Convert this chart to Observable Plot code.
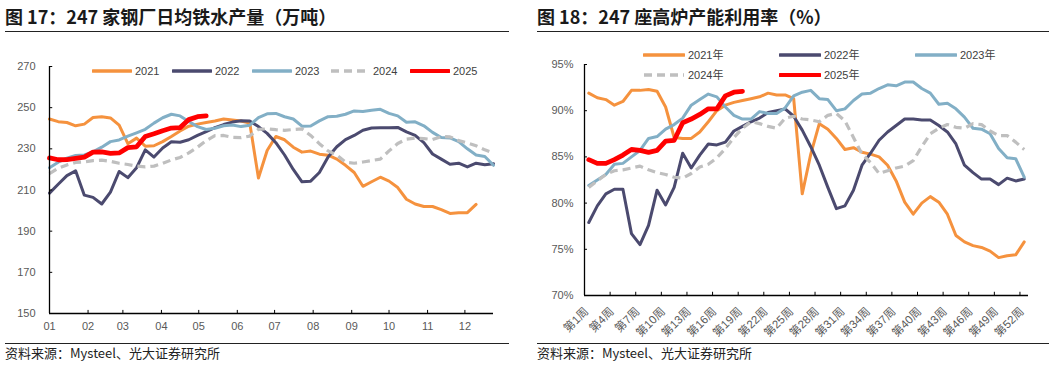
<!DOCTYPE html>
<html><head><meta charset="utf-8">
<script src="https://cdn.jsdelivr.net/npm/d3@7"></script>
<script src="https://cdn.jsdelivr.net/npm/@observablehq/plot@0.6"></script>
<style>
body{margin:0;background:#fff;}
#wrap{position:relative;width:1054px;height:365px;overflow:hidden;font-family:"Liberation Sans",Arial,"Noto Sans CJK SC",sans-serif;}
.title{position:absolute;top:5px;line-height:22px;font-family:"Noto Sans CJK SC",sans-serif;font-weight:bold;font-size:18px;color:#1a1a1a;white-space:nowrap;}
.rule{position:absolute;height:0;border-top:1.5px solid #222;}
.src{position:absolute;top:344px;line-height:17px;font-family:"Noto Sans CJK SC",sans-serif;font-size:13px;color:#222;white-space:nowrap;}
.chart{position:absolute;top:35px;}
.leg{position:absolute;height:14px;line-height:14px;font-size:11px;color:#404040;white-space:nowrap;font-family:"Liberation Sans",Arial,"Noto Sans CJK SC",sans-serif;}
.leg svg{position:absolute;left:0;top:0;}
.leg span{position:absolute;top:0;}
</style></head>
<body>
<div id="wrap">
  <div class="title" style="left:5px">图 17：247 家钢厂日均铁水产量（万吨）</div>
  <div class="rule" style="left:5px;top:31px;width:504px"></div>
  <div class="title" style="left:537px">图 18：247 座高炉产能利用率（%）</div>
  <div class="rule" style="left:537px;top:31px;width:512px"></div>
  <div id="left" class="chart" style="left:0px"></div>
  <div id="right" class="chart" style="left:530px"></div>
  <div class="rule" style="left:5px;top:343px;width:504px"></div>
  <div class="rule" style="left:537px;top:343px;width:512px"></div>
  <div class="src" style="left:5px">资料来源：Mysteel、光大证券研究所</div>
  <div class="src" style="left:537px">资料来源：Mysteel、光大证券研究所</div>
</div>
<script>
// ---------- data ----------
const monthLabels = ["01","02","03","04","05","06","07","08","09","10","11","12"];
const monthStartDays = [0,31,59,90,120,151,181,212,243,273,304,334];
const leftYTicks = [150,170,190,210,230,250,270];
const rightYTicks = [70,75,80,85,90,95];
const weekTickPos = [0,3,6,9,12,15,18,21,24,27,30,33,36,39,42,45,48,51];
const weekLabels = ["第1周","第4周","第7周","第10周","第13周","第16周","第19周","第22周","第25周","第28周","第31周","第34周","第37周","第40周","第43周","第46周","第49周","第52周"];

const leftNames = ["2021","2022","2023","2024","2025"];
const rightNames = ["2021年","2022年","2023年","2024年","2025年"];
const colors = ["#F5923E","#4B4A6F","#82AFC6","#BFBFBF","#FF0000"];

// 日均铁水产量（万吨），weekly
const L2021 = [244.5,243.2,242.8,241.2,242,245.2,245.6,245,241.5,232.5,235.2,231.3,231.5,233.5,236,238.7,241,242,242.8,243.5,244.5,244,243.5,242.5,215.8,229.2,236,234.4,230.8,228.4,228.9,227.4,226.9,225,222,218.5,211.8,214,216.2,214.3,211.2,205.5,203.2,202,202,200.5,198.6,199,199,203];
const L2022 = [208.5,212.8,217,219.3,207.5,206.4,203.2,209,219,216,220.8,229.5,226,230.4,233.4,233.2,234.4,236.5,238.4,240.3,241.8,243,243.6,243.5,240.8,237.5,233,227,220,214,214.3,218.5,226,231,234.5,236.5,239,240.1,240.2,240.2,240.4,238.2,236.5,233,227.5,225,222.5,223,221.2,223,222.3,222.7];
const L2023 = [220.8,223.5,225.5,226.8,227,228.5,230.8,233.5,234.3,236.2,237.8,239.5,242.5,245.1,246.8,246,243.3,240.8,239.4,240,241.2,241.6,240.8,241.5,245.2,247,247.2,245.6,244.5,241,241.1,243.6,245.6,245.8,246.8,248.4,248.1,248.7,249.2,247.2,246,242.9,243.1,241.2,238,235.5,235.3,233.5,230,227,226.3,222];
const L2024 = [218,220.6,222.2,223.4,223.7,224.3,224.5,223.9,223,222.4,221.6,221.2,221.6,222.9,224.6,225.8,228,230.8,234,236.4,236.5,235.6,235.4,236.2,239.5,239.7,239.3,239,239.4,239.7,236.5,232.5,229,227,223.5,223,223.6,224.3,225,229,232.6,234.7,235.2,235,234.5,236,235.8,234,232.9,231.5,229.5,228];
const L2025 = [225.6,224.7,224.8,225.4,226,228.4,228.5,227.8,228,230.6,231,236,237.3,238.8,240.1,240.3,244.2,245.6,246];

// 高炉产能利用率（%），weeks 1..52
const R2021 = [91.9,91.4,91.2,90.6,91,92.2,92.2,92.3,92.1,90.4,87.1,87,87,87.7,88.8,90,90.6,90.9,91.1,91.3,91.5,91.9,91.7,91.7,91.3,81,85.3,88.6,88,87,85.8,86,85.5,85.3,85,84.1,82.4,80.1,78.8,80,80.7,80.1,78.8,76.5,75.8,75.4,75.2,74.8,74.1,74.3,74.4,75.8];
const R2022 = [77.9,79.7,81,81.5,81.5,76.7,75.5,77.6,81.4,79.8,81.7,85.4,83.8,85.2,86.4,86.3,86.6,87.8,88.3,88.8,89.2,89.8,90,90.2,89.4,87.9,86.1,84.1,81.7,79.4,79.7,81.4,84.1,85.4,86.8,87.7,88.4,89.1,89.1,89,89,88.4,87.7,86.4,84.1,83.3,82.6,82.6,82,82.7,82.4,82.6];
const R2023 = [81.9,82.5,83.1,84.2,84.3,85,85.7,87,87.2,88,88.5,89.2,90.6,91.2,91.8,91.5,90.4,89.5,89.1,89.1,89.9,89.7,89.7,90.3,91.6,92,92.2,91.3,91.2,90,90.2,91.1,91.8,91.9,92.4,92.8,92.7,93.1,93.1,92.4,91.9,90.7,90.8,90.2,89.3,88.1,88,87.5,85.9,84.9,84.8,82.8];
const R2024 = [81.7,82.4,83.1,83.5,83.6,83.8,84,83.6,83.3,83.1,82.8,82.7,83.2,83.9,84.2,84.9,85.9,87.1,88.1,88.8,88.6,88.3,88.1,89.2,89.4,89.1,89,88.8,89.5,89.7,88.9,87.1,85.3,84.4,83.2,83.5,83.8,84,84.6,86.1,87.5,88.1,88.5,88.2,88.1,88.6,88.5,87.8,87.3,87.3,86.6,85.8];
const R2025 = [84.7,84.3,84.3,84.7,85.2,85.8,85.7,85.5,85.7,86.7,86.8,88.7,89.1,89.6,90.2,90.2,91.6,92,92.1];

const leftSeries = [L2021, L2022, L2023, L2024, L2025];
const rightSeries = [R2021, R2022, R2023, R2024, R2025];
const widths = [3, 3, 3, 3.2, 4.8];
const dashes = [null, null, null, "8,5", null];

// ---------- charts ----------
const axisStyle = {fontFamily: "'Liberation Sans', Arial, 'Noto Sans CJK SC', sans-serif", fontSize: "11px", color: "#595959", background: "transparent", overflow: "visible"};

function lineMarks(series, xf) {
  return series.map((vals, k) => Plot.line(vals, {
    x: (d, i) => xf(i), y: d => d,
    stroke: colors[k], strokeWidth: widths[k],
    strokeDasharray: dashes[k] || undefined,
    strokeLinejoin: "round", strokeLinecap: dashes[k] ? "butt" : "round"
  }));
}

const left = Plot.plot({
  width: 510, height: 305,
  marginLeft: 49, marginRight: 17, marginTop: 31, marginBottom: 27,
  style: axisStyle,
  x: {domain: [0, 357]},
  y: {domain: [150, 270]},
  marks: [
    Plot.axisY(leftYTicks, {tickSize: 0, tickPadding: 14, label: null}),
    Plot.axisX(monthStartDays, {tickSize: 0, tickPadding: 9, label: null,
      tickFormat: d => monthLabels[monthStartDays.indexOf(d)]}),
    ...lineMarks(leftSeries, i => i * 7),
    Plot.ruleY(leftYTicks, {x1: 0, x2: 2.6, stroke: "#000"}),
    Plot.ruleX(monthStartDays, {y1: 150, y2: 151.5, stroke: "#000"}),
    Plot.ruleX([0], {stroke: "#000", strokeWidth: 1.3}),
    Plot.ruleY([150], {stroke: "#000", strokeWidth: 1.3})
  ]
});
document.getElementById("left").appendChild(left);

const right = Plot.plot({
  width: 520, height: 305,
  marginLeft: 54, marginRight: 22, marginTop: 29, marginBottom: 45,
  style: axisStyle,
  x: {domain: [0, 52]},
  y: {domain: [70, 95]},
  marks: [
    Plot.axisY(rightYTicks, {tickSize: 0, tickPadding: 11, label: null, tickFormat: d => d + "%"}),
    Plot.axisX(weekTickPos, {tickSize: 0, tickPadding: 14, dx: 2, tickRotate: -45, label: null,
      fontSize: 11.5, tickFormat: d => weekLabels[weekTickPos.indexOf(d)]}),
    ...lineMarks(rightSeries, i => i + 0.5),
    Plot.ruleY(rightYTicks, {x1: 0, x2: 0.35, stroke: "#000"}),
    Plot.ruleX(weekTickPos, {y1: 70, y2: 70.35, stroke: "#000"}),
    Plot.ruleX([0], {stroke: "#000", strokeWidth: 1.3}),
    Plot.ruleY([70], {stroke: "#000", strokeWidth: 1.3})
  ]
});
document.getElementById("right").appendChild(right);

// ---------- legends ----------
function legendItem(x, y, k, name, lw) {
  const d = document.createElement("div");
  d.className = "leg";
  d.style.left = x + "px"; d.style.top = (y - 7) + "px";
  const w = lw;
  const sw = k === 4 ? 4 : 3.5;
  d.innerHTML = `<svg width="${w}" height="14"><line x1="1" y1="7" x2="${w-1}" y2="7" stroke="${colors[k]}" stroke-width="${sw}" ${dashes[k] ? `stroke-dasharray="${dashes[k]}"` : 'stroke-linecap="round"'}/></svg><span style="left:${w + 3}px">${name}</span>`;
  document.getElementById("wrap").appendChild(d);
}
const leftLegX = [92, 172, 252, 330, 410];
leftLegX.forEach((x, k) => legendItem(x, 71, k, leftNames[k], 40));
const rightLegPos = [[643, 55], [779, 55], [915, 55], [643, 75], [779, 75]];
rightLegPos.forEach((p, k) => legendItem(p[0], p[1], k, rightNames[k], 42));
</script>
</body></html>
